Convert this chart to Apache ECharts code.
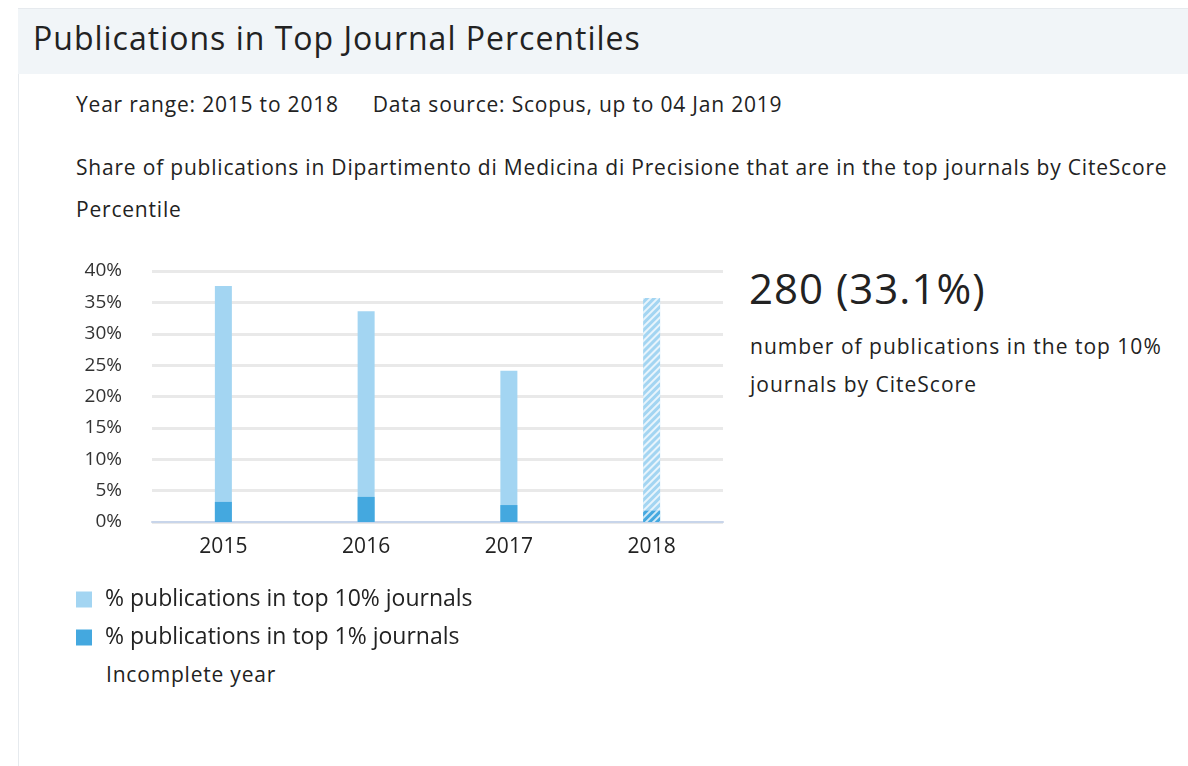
<!DOCTYPE html>
<html>
<head>
<meta charset="utf-8">
<script src="https://cdn.jsdelivr.net/npm/echarts@6/dist/echarts.min.js"></script>
<style>
  body { margin: 0; background: #fff; font-family: 'Open Sans', Lato, sans-serif; color: #222; }
  .page { position: relative; width: 1188px; height: 766px; overflow: hidden; }
  .card { position: absolute; left: 18px; top: 8px; right: 0; bottom: 0; border-left: 1px solid #e6eaee; border-top: 1px solid #e6eaee; }
  .head { position: absolute; left: 18px; top: 9px; right: 0; height: 65px; background: #f1f5f8; }
  .txt { position: absolute; white-space: nowrap; font-size: 21px; letter-spacing: 0.8px; }
  #chart { position: absolute; left: 0; top: 0; width: 1188px; height: 766px; }
</style>
</head>
<body>
<div class="page">
  <div class="card"></div>
  <div class="head"></div>
  <div class="txt" style="left:33px;top:16px;font-size:32px;letter-spacing:1px;">Publications in Top Journal Percentiles</div>
  <div class="txt" style="left:76px;top:90px;">Year range: 2015 to 2018<span style="display:inline-block;width:34px;"></span>Data source: Scopus, up to 04 Jan 2019</div>
  <div class="txt" style="left:76px;top:153px;">Share of publications in Dipartimento di Medicina di Precisione that are in the top journals by CiteScore</div>
  <div class="txt" style="left:76px;top:195px;">Percentile</div>
  <div class="txt" style="left:749px;top:259px;font-size:42px;letter-spacing:1px;">280 (33.1%)</div>
  <div class="txt" style="left:750px;top:332px;letter-spacing:1px;">number of publications in the top 10%</div>
  <div class="txt" style="left:750px;top:370px;letter-spacing:1px;">journals by CiteScore</div>
  <div class="txt" style="left:106px;top:660px;">Incomplete year</div>
  <div id="chart"></div>
</div>
<script>
const years = ['2015', '2016', '2017', '2018']
const top10Share = [37.6, 33.6, 24.1, 35.7]
const top1Share = [3.2, 4.0, 2.7, 1.8]
const incompleteYear = '2018'
const yTicks = [0, 5, 10, 15, 20, 25, 30, 35, 40]

const lightBlue = '#a3d5f2'
const darkBlue = '#44a8df'

// diagonal stripes for the incomplete year
const hatch = {
  symbol: 'rect',
  symbolSize: 1,
  dashArrayX: [1, 0],
  dashArrayY: [2, 3],
  rotation: -Math.PI / 4,
  color: 'rgba(255, 255, 255, 0.75)'
}

const withHatch = (values, color) => values.map((v, i) => {
  if (years[i] !== incompleteYear) return v
  return { value: v, itemStyle: { color: color, decal: hatch } }
})

const chart = echarts.init(document.getElementById('chart'))

const option = {
  animation: false,
  textStyle: { fontFamily: 'Open Sans, Lato, sans-serif' },
  legend: {
    orient: 'vertical',
    left: 71,
    top: 583,
    itemWidth: 16,
    itemHeight: 16,
    itemGap: 15,
    icon: 'rect',
    textStyle: { fontSize: 23, color: '#222', padding: [0, 0, 0, 8] },
    data: ['% publications in top 10% journals', '% publications in top 1% journals']
  },
  grid: {
    left: 152,
    right: 465,
    top: 271,
    bottom: 244
  },
  xAxis: {
    type: 'category',
    data: years,
    axisLine: { lineStyle: { color: '#c8d5ea', width: 2 } },
    axisTick: { show: false },
    axisLabel: { fontSize: 21, color: '#222', margin: 15 }
  },
  yAxis: {
    type: 'value',
    min: yTicks[0],
    max: yTicks[yTicks.length - 1],
    interval: 5,
    axisLine: { show: false },
    axisTick: { show: false },
    axisLabel: { formatter: '{value}%', fontSize: 19, color: '#333', margin: 30 },
    splitLine: { lineStyle: { color: '#e9e9e9', width: 3 } }
  },
  series: [
    {
      name: '% publications in top 10% journals',
      type: 'bar',
      barWidth: 17,
      barGap: '-100%',
      itemStyle: { color: lightBlue },
      data: withHatch(top10Share, lightBlue)
    },
    {
      name: '% publications in top 1% journals',
      type: 'bar',
      barWidth: 17,
      barGap: '-100%',
      itemStyle: { color: darkBlue },
      data: withHatch(top1Share, darkBlue)
    }
  ]
}

chart.setOption(option)
</script>
</body>
</html>
